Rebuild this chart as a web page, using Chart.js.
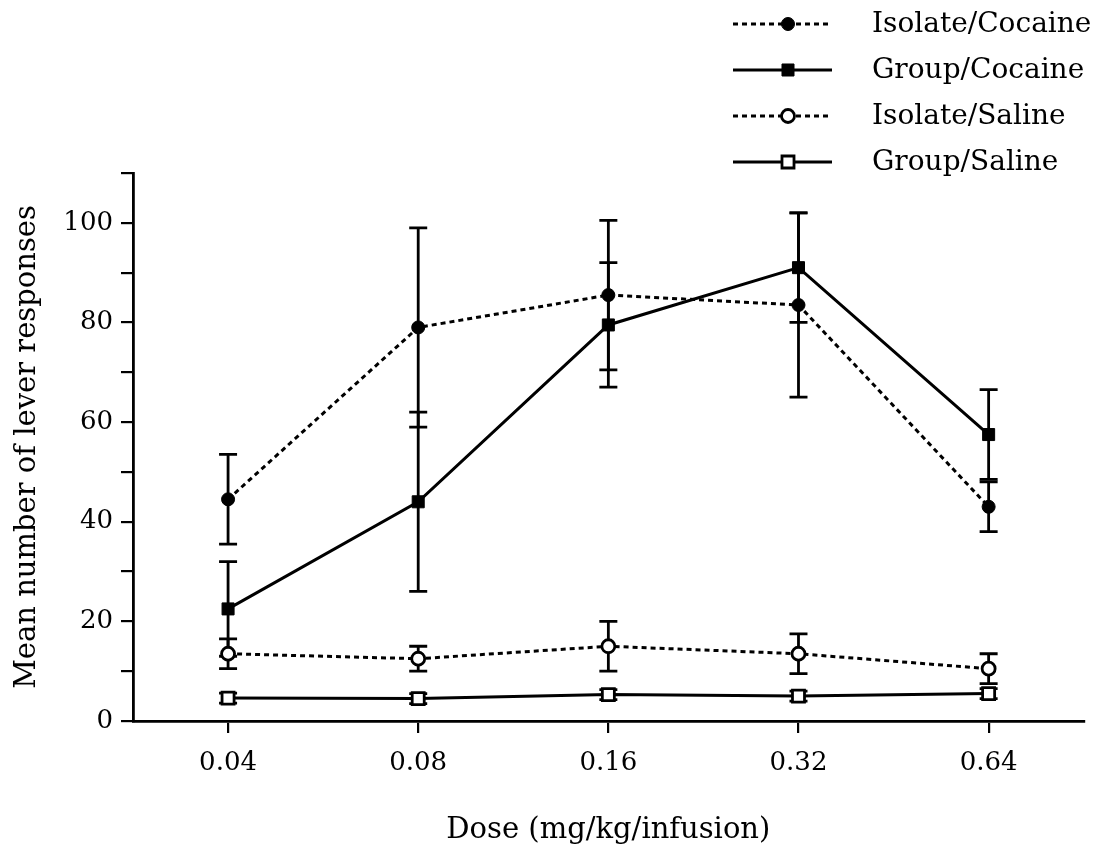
<!DOCTYPE html>
<html>
<head>
<meta charset="utf-8">
<script src="https://cdn.jsdelivr.net/npm/chart.js@4"></script>
<style>
  html, body { margin: 0; padding: 0; background: #fff; }
  #wrap { width: 1095px; height: 854px; }
</style>
</head>
<body>
<div id="wrap"><canvas id="myChart" width="1095" height="854"></canvas></div>
<script>
const doses = ["0.04", "0.08", "0.16", "0.32", "0.64"];

const isolateCocaine = [44.5, 79, 85.5, 83.5, 43];
const isolateCocaineErr = [9, 20, 15, 18.5, 5];
const groupCocaine = [22.5, 44, 79.5, 91, 57.5];
const groupCocaineErr = [9.5, 18, 12.5, 11, 9];
const isolateSaline = [13.5, 12.5, 15, 13.5, 10.5];
const isolateSalineErr = [3, 2.5, 5, 4, 3];
const groupSaline = [4.6, 4.5, 5.3, 5, 5.5];
const groupSalineErr = [1, 1, 1, 1, 1];

const yTicks = [0, 20, 40, 60, 80, 100];

const serif = "'DejaVu Serif', 'Liberation Serif', serif";

// error bars, drawn under the markers
const errorBars = {
  id: "errorBars",
  beforeDatasetsDraw(chart) {
    const ctx = chart.ctx;
    const xs = chart.scales.x;
    const ys = chart.scales.y;
    ctx.save();
    ctx.strokeStyle = "#000";
    ctx.lineWidth = 2.8;
    chart.data.datasets.forEach((ds) => {
      ds.data.forEach((v, i) => {
        const e = ds.errors[i];
        const x = xs.getPixelForValue(i);
        const top = ys.getPixelForValue(v + e);
        const bot = ys.getPixelForValue(v - e);
        ctx.beginPath();
        ctx.moveTo(x, top);
        ctx.lineTo(x, bot);
        ctx.moveTo(x - 9, top);
        ctx.lineTo(x + 9, top);
        ctx.moveTo(x - 9, bot);
        ctx.lineTo(x + 9, bot);
        ctx.stroke();
      });
    });
    ctx.restore();
  },
};

// legend with the marker in the middle of the line sample
const sampleLegend = {
  id: "sampleLegend",
  afterDraw(chart) {
    const ctx = chart.ctx;
    ctx.save();
    chart.data.datasets.forEach((ds, i) => {
      const y = 24 + i * 46;
      ctx.strokeStyle = "#000";
      ctx.lineWidth = ds.borderWidth;
      ctx.setLineDash(ds.borderDash || []);
      ctx.beginPath();
      ctx.moveTo(733, y);
      ctx.lineTo(832, y);
      ctx.stroke();
      ctx.setLineDash([]);
      ctx.fillStyle = ds.pointBackgroundColor;
      ctx.lineWidth = ds.pointBorderWidth;
      Chart.helpers.drawPoint(ctx, {
        pointStyle: ds.pointStyle,
        radius: ds.pointRadius,
        borderWidth: ds.pointBorderWidth,
        rotation: 0,
      }, 788, y);
      ctx.fillStyle = "#000";
      ctx.font = "28px " + serif;
      ctx.textBaseline = "middle";
      ctx.textAlign = "left";
      ctx.fillText(ds.label, 872, y + 1);
    });
    ctx.restore();
  },
};

function series(label, data, errors, dashed, style, filled) {
  return {
    label: label,
    data: data,
    errors: errors,
    borderColor: "#000",
    borderWidth: 3,
    borderDash: dashed ? [5, 4] : [],
    pointStyle: style,
    pointRadius: style === "rect" ? 8.5 : 6.5,
    pointHoverRadius: style === "rect" ? 8.5 : 6.5,
    pointBorderWidth: filled ? 1 : 2.8,
    pointBorderColor: "#000",
    pointBackgroundColor: filled ? "#000" : "#fff",
    tension: 0,
    fill: false,
  };
}

const data = {
  labels: doses,
  datasets: [
    series("Isolate/Cocaine", isolateCocaine, isolateCocaineErr, true, "circle", true),
    series("Group/Cocaine", groupCocaine, groupCocaineErr, false, "rect", true),
    series("Isolate/Saline", isolateSaline, isolateSalineErr, true, "circle", false),
    series("Group/Saline", groupSaline, groupSalineErr, false, "rect", false),
  ],
};

const config = {
  type: "line",
  data: data,
  options: {
    responsive: false,
    animation: false,
    layout: {
      padding: { top: 173, left: 0, right: -10, bottom: 0 },
    },
    plugins: {
      legend: { display: false },
      tooltip: { enabled: false },
    },
    scales: {
      x: {
        type: "category",
        offset: true,
        afterFit: (scale) => { scale.height = 133; },
        border: { display: true, color: "#000", width: 2.8 },
        grid: {
          display: true,
          drawOnChartArea: false,
          drawTicks: true,
          tickLength: 12,
          color: "#000",
          lineWidth: 2.2,
        },
        ticks: {
          color: "#000",
          padding: 15,
          font: { family: serif, size: 26 },
        },
        title: {
          display: true,
          text: "Dose (mg/kg/infusion)",
          color: "#000",
          font: { family: serif, size: 29 },
          padding: { top: 0, bottom: 6 },
        },
      },
      y: {
        min: 0,
        max: 110,
        afterFit: (scale) => { scale.width = 133; },
        border: { display: true, color: "#000", width: 2.8 },
        grid: {
          display: true,
          drawOnChartArea: false,
          drawTicks: true,
          tickLength: 12,
          color: "#000",
          lineWidth: 2.2,
        },
        ticks: {
          stepSize: 10,
          color: "#000",
          padding: 8,
          font: { family: serif, size: 26 },
          callback: (v) => (yTicks.includes(v) ? String(v) : ""),
        },
        title: {
          display: true,
          text: "Mean number of lever responses",
          color: "#000",
          font: { family: serif, size: 29 },
          padding: { top: 10, bottom: 0 },
        },
      },
    },
  },
  plugins: [errorBars, sampleLegend],
};

const myChart = new Chart(document.getElementById("myChart"), config);
</script>
</body>
</html>
